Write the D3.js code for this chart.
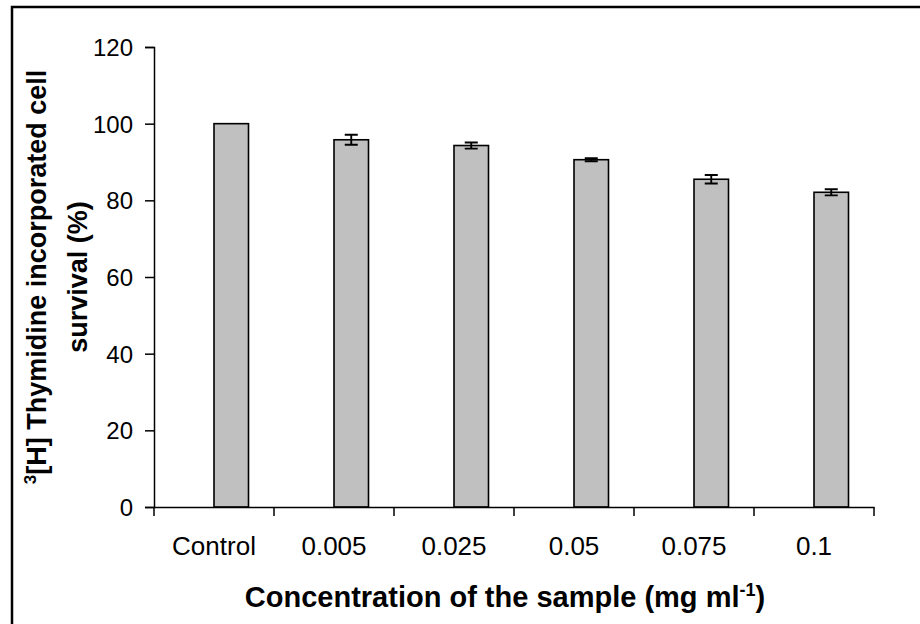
<!DOCTYPE html>
<html>
<head>
<meta charset="utf-8">
<script src="https://cdn.jsdelivr.net/npm/d3@7"></script>
<style>
  html, body { margin: 0; padding: 0; background: #fff; }
  svg { display: block; font-family: "Liberation Sans", Arial, sans-serif; }
</style>
</head>
<body>
<div id="chart"></div>
<script>
// data
const categories = ["Control", "0.005", "0.025", "0.05", "0.075", "0.1"];
const survival   = [100, 95.8, 94.3, 90.6, 85.5, 82.1];
const errors     = [0, 1.3, 0.8, 0.4, 1.1, 0.8];
const yTicks     = [0, 20, 40, 60, 80, 100, 120];

const width = 920, height = 624;
const margin = { top: 47, right: 46, bottom: 117, left: 154 };

const svg = d3.select("#chart").append("svg")
    .attr("width", width)
    .attr("height", height);

// outer frame (only top and left edges are inside the picture)
svg.append("path")
    .attr("d", `M12,${height + 2}V7H${width + 2}`)
    .attr("fill", "none")
    .attr("stroke", "#000")
    .attr("stroke-width", 2.5);

const x = d3.scaleBand()
    .domain(categories)
    .range([margin.left, width - margin.right]);

const y = d3.scaleLinear()
    .domain([0, 120])
    .range([height - margin.bottom, margin.top]);

const barW = x.bandwidth() * 0.2875;

// bars: Excel puts them just right of the category centre
const bars = svg.append("g");
bars.selectAll("rect")
  .data(survival)
  .enter().append("rect")
    .attr("x", (d, i) => x(categories[i]) + x.bandwidth() / 2)
    .attr("y", d => y(d))
    .attr("width", barW)
    .attr("height", d => y(0) - y(d))
    .attr("fill", "#c0c0c0")
    .attr("stroke", "#000")
    .attr("stroke-width", 1.6);

// error bars
const err = svg.append("g")
    .attr("stroke", "#000")
    .attr("stroke-width", 1.9)
    .attr("fill", "none");

survival.forEach((v, i) => {
  const e = errors[i];
  if (!e) return;
  const cx = x(categories[i]) + x.bandwidth() / 2 + barW / 2;
  const capW = 6.5;
  err.append("path")
    .attr("d", `M${cx},${y(v + e)}V${y(v - e)}` +
               `M${cx - capW},${y(v + e)}H${cx + capW}` +
               `M${cx - capW},${y(v - e)}H${cx + capW}`);
});

// y axis
const yAxis = svg.append("g")
    .attr("transform", `translate(${margin.left},0)`)
    .call(d3.axisLeft(y).tickValues(yTicks).tickSize(9).tickPadding(12).tickFormat(d3.format("d")));

// x axis
const xAxis = svg.append("g")
    .attr("transform", `translate(0,${y(0)})`)
    .call(d3.axisBottom(x).tickSize(0).tickPadding(30));

// x ticks sit on the band edges
xAxis.selectAll(".edge")
  .data(d3.range(categories.length + 1))
  .enter().append("line")
    .attr("class", "edge")
    .attr("x1", i => margin.left + i * x.step())
    .attr("x2", i => margin.left + i * x.step())
    .attr("y1", 0)
    .attr("y2", 9)
    .attr("stroke", "#000");

[yAxis, xAxis].forEach(a => {
  a.select(".domain").attr("stroke", "#000").attr("stroke-width", 1.5);
  a.selectAll(".tick line").attr("stroke", "#000").attr("stroke-width", 1.5);
  a.selectAll(".edge").attr("stroke-width", 1.5);
  a.selectAll("text")
    .attr("fill", "#000")
    .style("font-family", "\"Liberation Sans\", Arial, sans-serif");
});
yAxis.selectAll("text").style("font-size", "24px");
xAxis.selectAll("text").style("font-size", "26px");
yAxis.selectAll(".tick text").attr("dy", "0.36em");

// x title
const xt = svg.append("text")
    .attr("x", 505)
    .attr("y", 607)
    .attr("text-anchor", "middle")
    .style("font-size", "29px")
    .style("font-weight", "bold");
xt.append("tspan").text("Concentration of the sample (mg ml");
xt.append("tspan").attr("dy", -11).style("font-size", "18px").text("-1");
xt.append("tspan").attr("dy", 11).text(")");

// y title, two lines
const yt = svg.append("g")
    .attr("transform", `translate(0,${(y(0) + y(120)) / 2}) rotate(-90)`);
const l1 = yt.append("text")
    .attr("x", 0)
    .attr("y", 46)
    .attr("text-anchor", "middle")
    .style("font-size", "27px")
    .style("font-weight", "bold");
l1.append("tspan").attr("dy", -10).style("font-size", "17px").text("3");
l1.append("tspan").attr("dy", 10).text("[H] Thymidine incorporated cell");
yt.append("text")
    .attr("x", 0)
    .attr("y", 87)
    .attr("text-anchor", "middle")
    .style("font-size", "27px")
    .style("font-weight", "bold")
    .text("survival (%)");
</script>
</body>
</html>
